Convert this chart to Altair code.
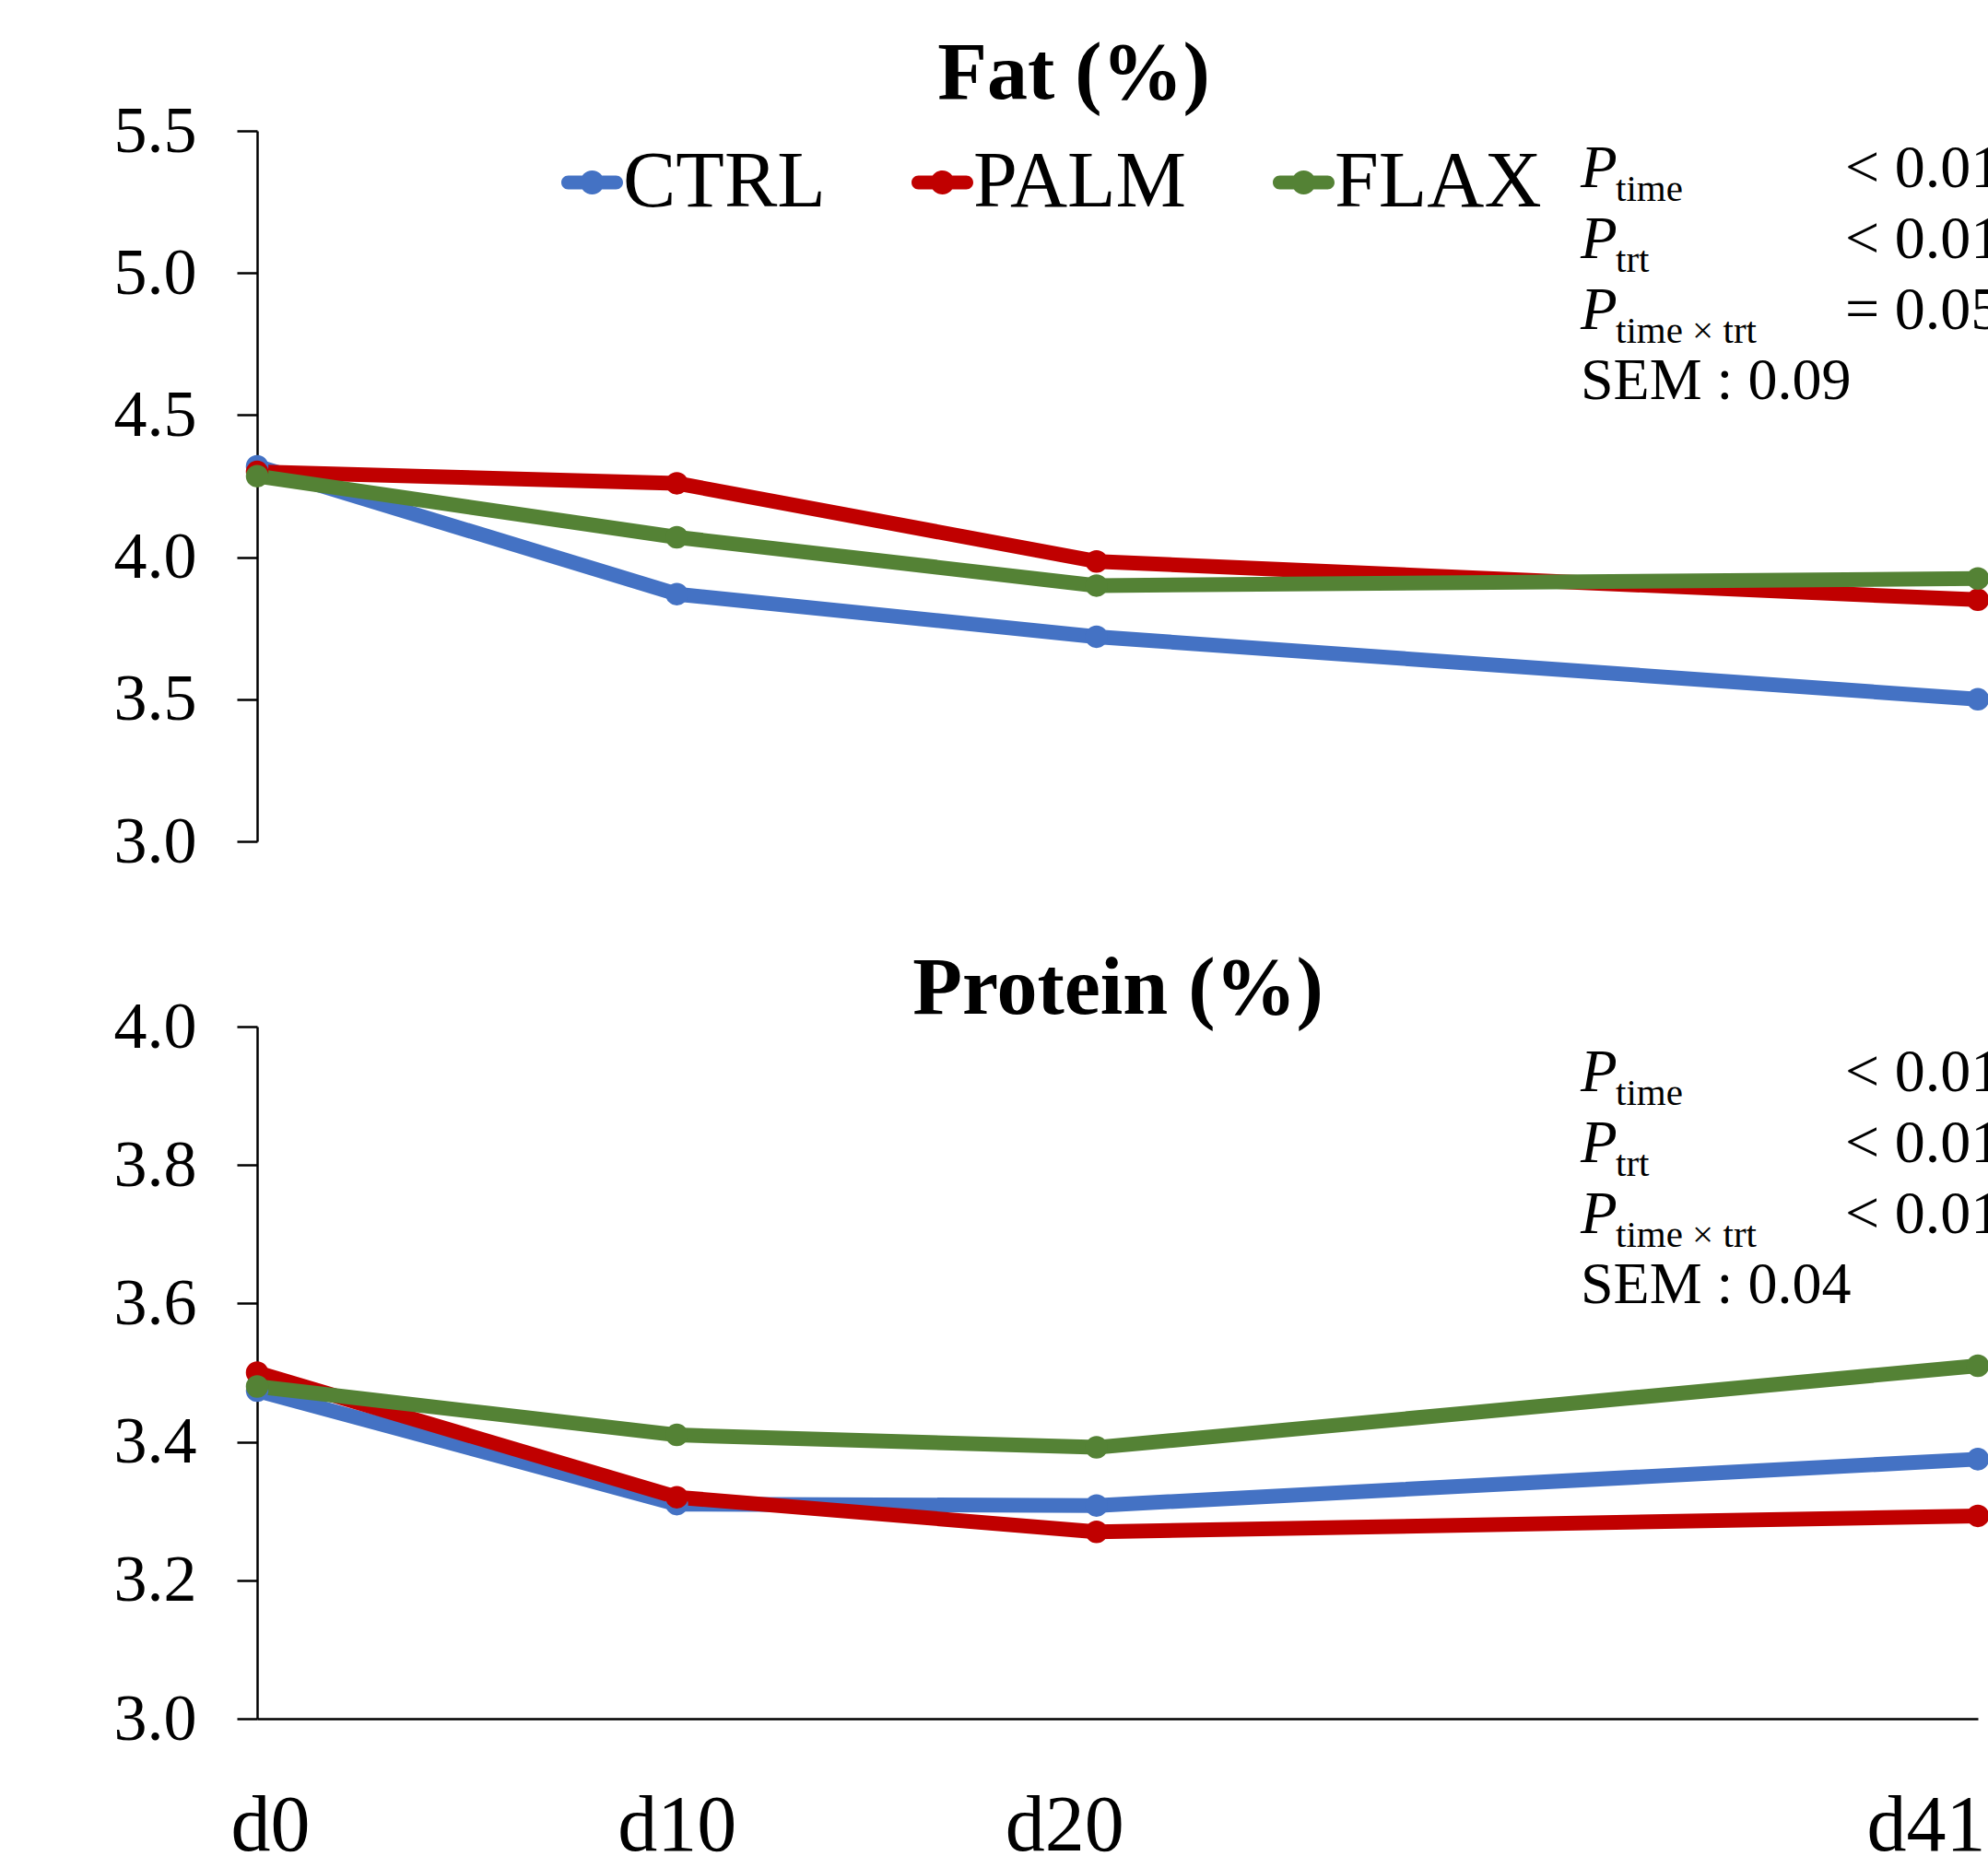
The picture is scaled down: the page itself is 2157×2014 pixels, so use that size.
import altair as alt
import pandas as pd

# ---------------- data ----------------
days = [0, 10, 20, 41]
day_labels = ["d0", "d10", "d20", "d41"]
treatments = ["CTRL", "PALM", "FLAX"]
colors = ["#4472C4", "#C00000", "#548235"]

fat_ctrl = [4.32, 3.87, 3.72, 3.50]
fat_palm = [4.30, 4.26, 3.985, 3.85]
fat_flax = [4.285, 4.07, 3.90, 3.925]

prot_ctrl = [3.474, 3.31, 3.308, 3.375]
prot_palm = [3.50, 3.32, 3.27, 3.293]
prot_flax = [3.48, 3.41, 3.392, 3.51]

fat_ticks = [3.0, 3.5, 4.0, 4.5, 5.0, 5.5]
prot_ticks = [3.0, 3.2, 3.4, 3.6, 3.8, 4.0]

fat_title = "Fat (%)"
prot_title = "Protein (%)"
p_subscripts = ["time", "trt", "time × trt"]
fat_pvalues = ["< 0.01", "< 0.01", "= 0.05"]
prot_pvalues = ["< 0.01", "< 0.01", "< 0.01"]
fat_sem = "SEM : 0.09"
prot_sem = "SEM : 0.04"

# ---------------- tables ----------------
def long_table(series):
    rows = []
    for trt, vals in zip(treatments, series):
        for d, v in zip(days, vals):
            rows.append({"day": d, "trt": trt, "value": v})
    return pd.DataFrame(rows)

fat_df = long_table([fat_ctrl, fat_palm, fat_flax])
prot_df = long_table([prot_ctrl, prot_palm, prot_flax])

FONT = "Liberation Serif"
W, H = 1867, 1723

# line-with-dot legend glyph (shifted right so it meets its label)
legend_path = (
    "M-0.868,-0.395 L1.868,-0.395 A0.395,0.395 0 0,1 1.868,0.395 "
    "L-0.868,0.395 A0.395,0.395 0 0,1 -0.868,-0.395 Z "
    "M-0.184,0 A0.684,0.684 0 1,1 1.184,0 A0.684,0.684 0 1,1 -0.184,0 Z"
)

color_enc = alt.Color(
    "trt:N",
    scale=alt.Scale(domain=treatments, range=colors),
    sort=treatments,
    legend=alt.Legend(
        orient="none", legendX=311, legendY=13, direction="horizontal",
        title=None, symbolType=legend_path, symbolSize=1444,
        symbolStrokeWidth=0, symbolOpacity=1, labelFont=FONT,
        labelFontSize=86, labelColor="black", labelOffset=0,
        columnPadding=74, padding=0, labelLimit=0,
    ),
)

x_enc = alt.X(
    "day:Q",
    scale=alt.Scale(domain=[0, 41], nice=False, zero=False),
    axis=alt.Axis(
        values=days, labelExpr="'d' + datum.value", title=None,
        ticks=False, grid=False, domainColor="black", domainWidth=2.5,
        labelFont=FONT, labelFontSize=86, labelColor="black",
        labelPadding=74, labelBaseline="top",
        labelAlign={"condition": {"test": "datum.value == 41", "value": "right"}, "value": "center"},
        labelOffset={"condition": [
            {"test": "datum.value == 0", "value": 14},
            {"test": "datum.value == 20", "value": -35},
            {"test": "datum.value == 41", "value": 8},
        ], "value": 0},
        labelOverlap=False, labelFlush=False,
    ),
)

def y_axis(vals):
    return alt.Axis(
        values=vals, format=".1f", title=None, grid=False, orient="left",
        domainColor="black", domainWidth=2.5, tickColor="black",
        tickWidth=2.5, tickSize=22, labelFont=FONT, labelFontSize=72,
        labelColor="black", labelPadding=44, labelOverlap=False,
        labelFlush=False,
    )

def panel(df, domain, rng, ticks):
    y_enc = alt.Y("value:Q", scale=alt.Scale(domain=domain, range=rng, nice=False, zero=False),
                  axis=y_axis(ticks))
    base = alt.Chart(df)
    lines = base.mark_line(strokeWidth=16, strokeCap="round", strokeJoin="round").encode(
        x=x_enc, y=y_enc, color=color_enc, detail="trt:N",
        order=alt.Order("day:Q"),
    )
    pts = base.mark_point(filled=True, size=600, opacity=1, strokeWidth=0).encode(
        x=x_enc, y=y_enc, color=color_enc,
    )
    return alt.layer(lines, pts)

fat_panel = panel(fat_df, [3.0, 5.5], [771, 0], fat_ticks)
prot_panel = panel(prot_df, [3.0, 4.0], [1723, 972], prot_ticks)

def txt(s, x, y, size, style="normal", weight="normal", align="left"):
    return alt.Chart(pd.DataFrame({"t": [s]})).mark_text(
        font=FONT, fontSize=size, fontStyle=style, fontWeight=weight,
        align=align, baseline="alphabetic", color="black",
    ).encode(x=alt.value(x), y=alt.value(y), text="t:N")

texts = [
    txt(fat_title, 886, -35, 88, weight="bold", align="center"),
    txt(prot_title, 934, 958, 88, weight="bold", align="center"),
]

def annotations(baselines, pvals, sem, sem_base):
    out = []
    for b, sub, pv in zip(baselines, p_subscripts, pvals):
        out.append(txt("P", 1436, b, 65, style="italic"))
        out.append(txt(sub, 1474, b + 15, 41))
        out.append(txt(pv, 1723, b, 66))
    out.append(txt(sem, 1436, sem_base, 64))
    return out

texts += annotations([61, 138, 215], fat_pvalues, fat_sem, 291)
texts += annotations([1042, 1119, 1196], prot_pvalues, prot_sem, 1272)

chart = alt.layer(fat_panel, prot_panel, *texts).resolve_scale(
    y="independent"
).properties(
    width=W, height=H,
    background="white",
    padding={"left": 279, "top": 142, "right": 11, "bottom": 149},
    autosize=alt.AutoSizeParams(type="none"),
).configure_view(stroke=None)

chart.save("out.html", embed_options={"renderer": "svg", "actions": False})
